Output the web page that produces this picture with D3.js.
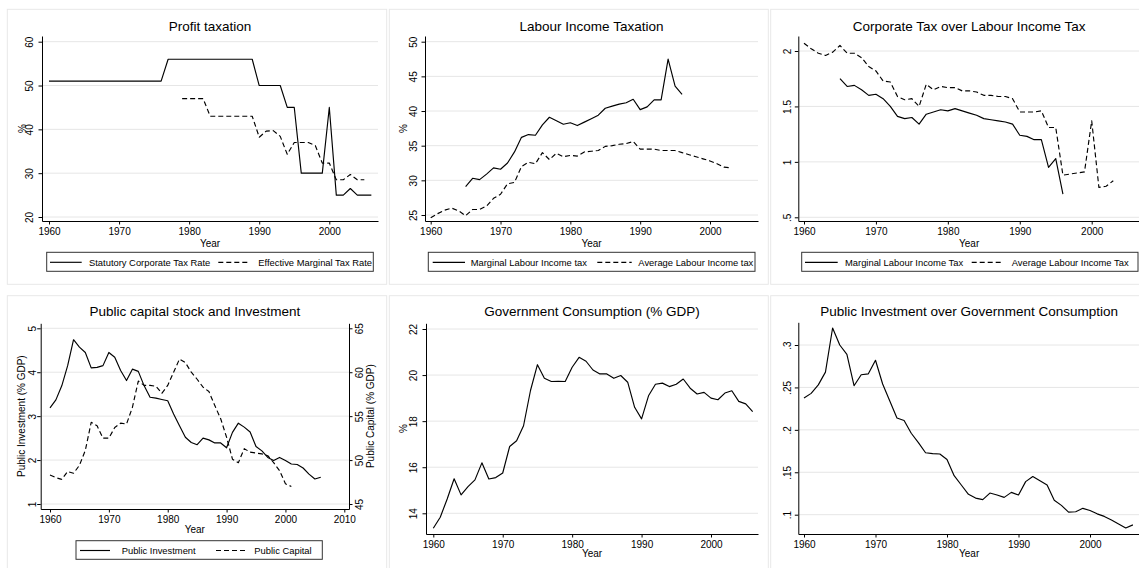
<!DOCTYPE html>
<html><head><meta charset="utf-8">
<script src="https://cdn.jsdelivr.net/npm/d3@7"></script>
<style>
html,body{margin:0;padding:0;background:#fff;}
svg{display:block;font-family:"Liberation Sans",Arial,Helvetica,sans-serif;}
</style></head><body>
<svg id="chart" width="1139" height="568"></svg>
<script>
// ---------------- DATA ----------------
const years = [1960,1961,1962,1963,1964,1965,1966,1967,1968,1969,
               1970,1971,1972,1973,1974,1975,1976,1977,1978,1979,
               1980,1981,1982,1983,1984,1985,1986,1987,1988,1989,
               1990,1991,1992,1993,1994,1995,1996,1997,1998,1999,
               2000,2001,2002,2003,2004,2005,2006];

const statutoryRate = [51,51,51,51,51,51,51,51,51,51,
                       51,51,51,51,51,51,51,56,56,56,
                       56,56,56,56,56,56,56,56,56,56,
                       50,50,50,50,45,45,30,30,30,30,
                       45,25,25,26.5,25,25,25];
const effectiveMarginal = [null,null,null,null,null,null,null,null,null,null,
                           null,null,null,null,null,null,null,null,null,47,
                           47,47,47,43,43,43,43,43,43,43,
                           38.2,39.6,39.7,38.4,34.3,37,37,37,36.3,32.3,
                           32.3,28.5,28.5,29.7,28.5,28.5,null];

const marginalLabour = [null,null,null,null,null,29.1,30.3,30.1,30.9,31.8,
                        31.6,32.5,34.1,36.2,36.6,36.5,38.0,39.1,38.6,38.1,
                        38.3,37.9,38.4,38.9,39.4,40.4,40.7,41.0,41.2,41.7,
                        40.2,40.6,41.6,41.6,47.5,43.6,42.4,null,null,null,
                        null,null,null,null,null,null,null];
const averageLabour = [24.6,25.2,25.7,26.0,25.6,24.9,25.8,25.8,26.3,27.4,
                       28.0,29.5,29.7,32.0,32.6,32.4,34.0,33.0,33.9,33.4,
                       33.6,33.5,34.1,34.2,34.3,34.9,35.0,35.2,35.3,35.6,
                       34.5,34.5,34.5,34.3,34.3,34.3,34.0,33.7,33.4,33.1,
                       32.8,32.4,31.9,31.8,null,null,null];

const corpOverMarginal = [null,null,null,null,null,1.75,1.68,1.69,1.65,1.60,
                          1.61,1.57,1.50,1.41,1.39,1.40,1.34,1.43,1.45,1.47,
                          1.46,1.48,1.46,1.44,1.42,1.39,1.38,1.37,1.36,1.34,
                          1.24,1.23,1.20,1.20,0.95,1.03,0.71,null,null,null,
                          null,null,null,null,null,null,null];
const corpOverAverage = [2.07,2.02,1.98,1.96,1.99,2.05,1.98,1.98,1.94,1.86,
                         1.82,1.73,1.72,1.59,1.56,1.57,1.50,1.70,1.65,1.68,
                         1.67,1.67,1.64,1.64,1.63,1.60,1.60,1.59,1.59,1.57,
                         1.45,1.45,1.45,1.46,1.31,1.31,0.88,0.89,0.90,0.91,
                         1.37,0.77,0.78,0.83,null,null,null];

const publicInvestment = [3.19,3.37,3.69,4.15,4.74,4.57,4.45,4.10,4.11,4.15,
                          4.45,4.34,4.04,3.81,4.07,4.02,3.69,3.43,3.41,3.38,
                          3.35,3.05,2.78,2.52,2.40,2.35,2.50,2.46,2.39,2.39,
                          2.28,2.63,2.84,2.75,2.64,2.31,2.21,2.06,1.99,2.06,
                          1.99,1.91,1.90,1.82,1.68,1.57,1.61];
const publicCapital = [48.3,48.0,47.8,48.7,48.5,49.4,51.1,54.3,53.9,52.5,
                       52.5,53.7,54.2,54.1,56.0,59.0,58.5,58.5,58.4,57.6,
                       58.5,60.0,61.5,61.1,60.0,59.2,58.3,57.8,56.2,54.7,
                       52.6,50.1,49.7,51.3,50.9,50.8,50.7,50.5,49.7,48.8,
                       47.3,47.0,null,null,null,null,null];

const govConsumption = [13.35,13.83,14.62,15.5,14.8,15.16,15.45,16.19,15.49,15.55,
                        15.75,16.9,17.15,17.8,19.33,20.45,19.86,19.72,19.73,19.72,
                        20.34,20.77,20.6,20.22,20.05,20.05,19.86,19.98,19.69,18.6,
                        18.1,19.1,19.6,19.65,19.5,19.6,19.83,19.43,19.18,19.25,
                        19.0,18.93,19.22,19.32,18.86,18.75,18.41];

const invOverCons = [0.2375,0.243,0.253,0.268,0.320,0.300,0.289,0.252,0.265,0.266,
                     0.282,0.254,0.234,0.214,0.211,0.196,0.185,0.173,0.172,0.1715,
                     0.165,0.146,0.135,0.124,0.1196,0.1177,0.1255,0.1232,0.1204,0.1263,
                     0.1232,0.139,0.145,0.140,0.135,0.117,0.111,0.103,0.1035,0.1075,
                     0.105,0.101,0.098,0.0937,0.089,0.0843,0.088];

// tick labels
const xTicksA = [1960,1970,1980,1990,2000];
const xTicksB = [1960,1970,1980,1990,2000,2010];
const yTicksProfit = [20,30,40,50,60];
const yTicksLabour = [25,30,35,40,45,50];
const yTicksRatio = [0.5,1,1.5,2];
const yTicksInv = [1,2,3,4,5];
const yTicksCap = [45,50,55,60,65];
const yTicksCons = [14,16,18,20,22];
const yTicksInvCons = [0.1,0.15,0.2,0.25,0.3];

// ---------------- DRAWING ----------------
const svg = d3.select('#chart');
const fmtDot = d => { const s = String(d); return s.startsWith('0.') ? s.slice(1) : s; };
const fmtInt = d3.format('d');

function calib(v1, p1, v2, p2, a, b) {
  const s = d3.scaleLinear().domain([v1, v2]).range([p1, p2]);
  return d3.scaleLinear().domain([s.invert(a), s.invert(b)]).range([a, b]);
}

function styleAxis(ax) {
  ax.attr('font-family', null).attr('font-size', null);
  ax.select('.domain').attr('stroke', '#000').attr('stroke-width', 1);
  ax.selectAll('.tick line').attr('stroke', '#000').attr('stroke-width', 1);
  ax.selectAll('.tick text').attr('fill', '#000').style('font-size', '10px');
}

function drawPanel(c) {
  const g = svg.append('g');
  g.append('rect').attr('x', c.frame[0]).attr('y', c.frame[1])
    .attr('width', c.frame[2]).attr('height', c.frame[3])
    .attr('fill', 'none').attr('stroke', '#e8e8e8').attr('stroke-width', 1);

  const x = calib(c.xc[0], c.xc[1], c.xc[2], c.xc[3], c.left, c.right);
  const y = calib(c.yc[0], c.yc[1], c.yc[2], c.yc[3], c.bottom, c.top);
  const y2 = c.y2c ? calib(c.y2c[0], c.y2c[1], c.y2c[2], c.y2c[3], c.bottom, c.top) : null;

  g.append('g').selectAll('line').data(c.yTicks).join('line')
    .attr('x1', c.left).attr('x2', c.right)
    .attr('y1', d => y(d)).attr('y2', d => y(d))
    .attr('stroke', '#e6e6e6').attr('stroke-width', 1);

  c.series.forEach(s => {
    const ys = s.axis === 2 ? y2 : y;
    const line = d3.line().defined(d => d[1] != null).x(d => x(d[0])).y(d => ys(d[1]));
    g.append('path').datum(years.map((yr, i) => [yr, s.values[i]]))
      .attr('d', line).attr('fill', 'none').attr('stroke', '#000')
      .attr('stroke-width', 1.15).attr('stroke-linejoin', 'round')
      .attr('stroke-dasharray', s.dash ? '5,3' : null);
  });

  const ya = g.append('g').attr('transform', `translate(${c.left},0)`)
    .call(d3.axisLeft(y).tickValues(c.yTicks).tickFormat(c.yFmt).tickSize(3.5).tickSizeOuter(0));
  styleAxis(ya);
  ya.selectAll('.tick text').attr('transform', 'rotate(-90)')
    .attr('x', 0).attr('y', c.ylabOff).attr('dy', 0).attr('text-anchor', 'middle');

  if (y2) {
    const yb = g.append('g').attr('transform', `translate(${c.right},0)`)
      .call(d3.axisRight(y2).tickValues(c.y2Ticks).tickFormat(fmtInt).tickSize(3.5).tickSizeOuter(0));
    styleAxis(yb);
    yb.selectAll('.tick text').attr('transform', 'rotate(-90)')
      .attr('x', 0).attr('y', 14).attr('dy', 0).attr('text-anchor', 'middle');
  }

  const xa = g.append('g').attr('transform', `translate(0,${c.bottom})`)
    .call(d3.axisBottom(x).tickValues(c.xTicks).tickFormat(fmtInt).tickSize(3.5).tickSizeOuter(0));
  styleAxis(xa);

  const cx = (c.left + c.right) / 2;
  g.append('text').attr('x', cx).attr('y', c.titleY).attr('text-anchor', 'middle')
    .style('font-size', '13.5px').attr('fill', '#000').text(c.title);
  g.append('text').attr('x', cx).attr('y', c.xtitleY).attr('text-anchor', 'middle')
    .style('font-size', '10px').attr('fill', '#000').text('Year');

  const cy = (c.top + c.bottom) / 2;
  if (c.ytitle) {
    g.append('text').attr('transform', `translate(${c.ytitleX},${cy}) rotate(-90)`)
      .attr('text-anchor', 'middle').style('font-size', '10px').attr('fill', '#000').text(c.ytitle);
  }
  if (c.y2title) {
    g.append('text').attr('transform', `translate(${c.y2titleX},${cy}) rotate(-90)`)
      .attr('text-anchor', 'middle').style('font-size', '10px').attr('fill', '#000').text(c.y2title);
  }

  if (c.legend) {
    const L = c.legend, b = L.box;
    const lg = g.append('g');
    lg.append('rect').attr('x', b[0]).attr('y', b[1]).attr('width', b[2]).attr('height', b[3])
      .attr('fill', '#fff').attr('stroke', '#333').attr('stroke-width', 1);
    const ly = b[1] + b[3] / 2 + 0.5;
    L.items.forEach((it, i) => {
      const s = c.series[i];
      lg.append('line').attr('x1', it.x1).attr('x2', it.x2).attr('y1', ly).attr('y2', ly)
        .attr('stroke', '#000').attr('stroke-width', 1.15)
        .attr('stroke-dasharray', s.dash ? '5,3' : null);
      lg.append('text').attr('x', it.tx).attr('y', ly + 3.6)
        .style('font-size', '9.4px').attr('fill', '#000').text(s.name);
    });
  }
}

const panels = [
  { title: 'Profit taxation', frame: [7.3, 9.3, 379.4, 275],
    left: 42, right: 378, top: 36, bottom: 221,
    xc: [1960, 49, 2000, 329.3], yc: [20, 217, 60, 41.7],
    xTicks: xTicksA, yTicks: yTicksProfit, yFmt: fmtInt, ylabOff: -9,
    titleY: 30.5, xtitleY: 246.5, ytitle: '%', ytitleX: 25.5,
    series: [{ name: 'Statutory Corporate Tax Rate', values: statutoryRate },
             { name: 'Effective Marginal Tax Rate', values: effectiveMarginal, dash: true }],
    legend: { box: [46.7, 252.3, 326.6, 19],
              items: [{ x1: 50, x2: 81.7, tx: 89 }, { x1: 218.3, x2: 248.3, tx: 258.3 }] } },
  { title: 'Labour Income Taxation', frame: [389.3, 9.3, 379, 275],
    left: 425, right: 758, top: 36, bottom: 221,
    xc: [1960, 430.7, 2000, 710], yc: [25, 215, 50, 41.7],
    xTicks: xTicksA, yTicks: yTicksLabour, yFmt: fmtInt, ylabOff: -8.2,
    titleY: 30.5, xtitleY: 246.5, ytitle: '%', ytitleX: 406.5,
    series: [{ name: 'Marginal Labour Income tax', values: marginalLabour },
             { name: 'Average Labour Income tax', values: averageLabour, dash: true }],
    legend: { box: [428.3, 252.3, 326.7, 19],
              items: [{ x1: 432.7, x2: 465, tx: 470.7 }, { x1: 597.3, x2: 631.7, tx: 638.3 }] } },
  { title: 'Corporate Tax over Labour Income Tax', frame: [770.7, 9.3, 400, 275],
    left: 798.3, right: 1140, top: 36, bottom: 221,
    xc: [1960, 804, 2000, 1091.7], yc: [0.5, 217.3, 2, 51],
    xTicks: xTicksA, yTicks: yTicksRatio, yFmt: fmtDot, ylabOff: -7.5,
    titleY: 30.5, xtitleY: 246.5,
    series: [{ name: 'Marginal Labour Income Tax', values: corpOverMarginal },
             { name: 'Average Labour Income Tax', values: corpOverAverage, dash: true }],
    legend: { box: [801.7, 252.3, 336.3, 19],
              items: [{ x1: 805, x2: 837.7, tx: 845 }, { x1: 971.7, x2: 1003.3, tx: 1011.7 }] } },
  { title: 'Public capital stock and Investment', frame: [7.3, 295.7, 379.4, 300],
    left: 40.7, right: 349, top: 323.3, bottom: 509,
    xc: [1960, 50, 2010, 344.3], yc: [1, 504, 5, 328.3], y2c: [45, 504, 65, 328.3],
    xTicks: xTicksB, yTicks: yTicksInv, y2Ticks: yTicksCap, yFmt: fmtInt, ylabOff: -4.8,
    titleY: 316.3, xtitleY: 532.7,
    ytitle: 'Public Investment (% GDP)', ytitleX: 24.5,
    y2title: 'Public Capital (% GDP)', y2titleX: 373.5,
    series: [{ name: 'Public Investment', values: publicInvestment },
             { name: 'Public Capital', values: publicCapital, dash: true, axis: 2 }],
    legend: { box: [76, 540.7, 246.3, 18.6],
              items: [{ x1: 80, x2: 110, tx: 121.7 }, { x1: 216, x2: 248, tx: 254.3 }] } },
  { title: 'Government Consumption (% GDP)', frame: [389.3, 295.7, 379, 300],
    left: 426, right: 758, top: 323.3, bottom: 534,
    xc: [1960, 433.3, 2000, 711], yc: [14, 513.3, 22, 329],
    xTicks: xTicksA, yTicks: yTicksCons, yFmt: fmtInt, ylabOff: -9.2,
    titleY: 316.3, xtitleY: 557.3, ytitle: '%', ytitleX: 406.5,
    series: [{ name: 'Government Consumption', values: govConsumption }] },
  { title: 'Public Investment over Government Consumption', frame: [770.7, 295.7, 400, 300],
    left: 798.3, right: 1140, top: 322.3, bottom: 534,
    xc: [1960, 804, 2000, 1090], yc: [0.1, 514.7, 0.3, 345],
    xTicks: xTicksA, yTicks: yTicksInvCons, yFmt: fmtDot, ylabOff: -7.5,
    titleY: 316.3, xtitleY: 557.3,
    series: [{ name: 'Public Investment over Government Consumption', values: invOverCons }] }
];

panels.forEach(drawPanel);
</script>
</body></html>
